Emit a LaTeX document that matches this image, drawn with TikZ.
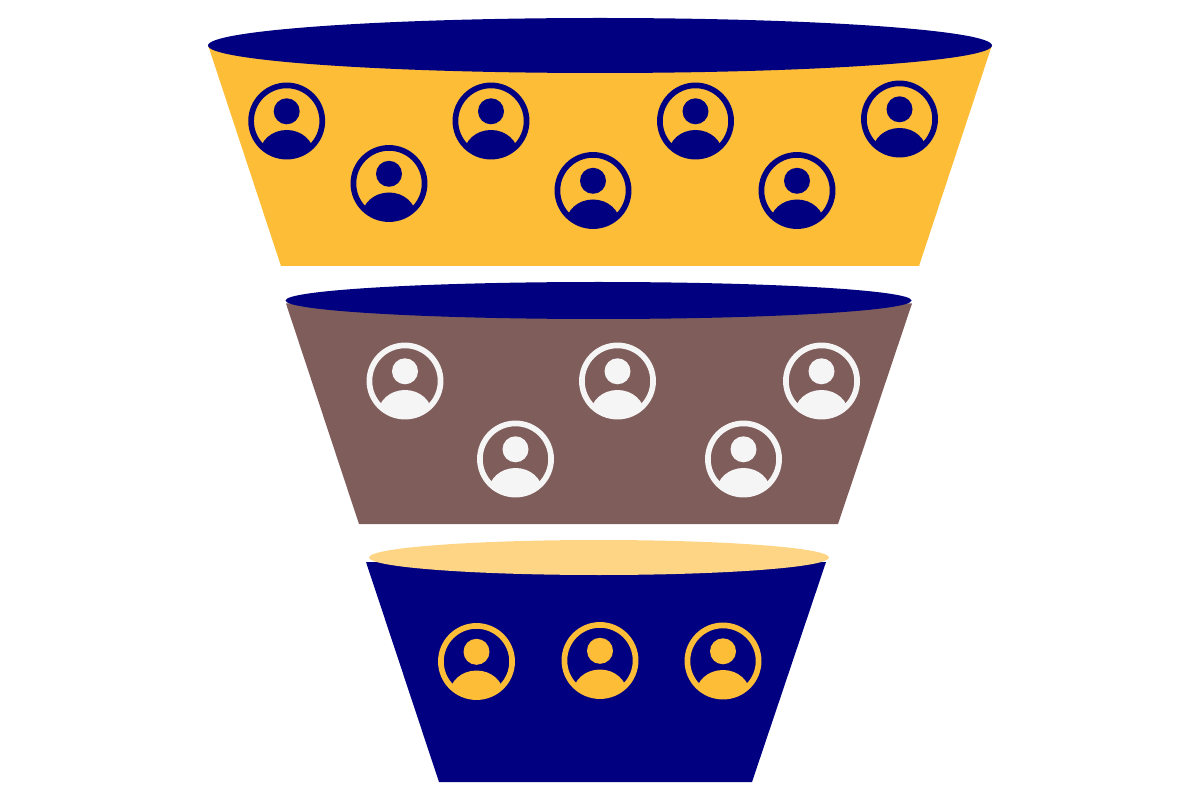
\documentclass[tikz,border=0pt]{standalone}
\usepackage{xcolor}
\definecolor{funnelnavy}{HTML}{000080}
\definecolor{funnelyellow}{HTML}{FDBD37}
\definecolor{funnelbrown}{HTML}{7F5D5B}
\definecolor{funnellight}{HTML}{FDD585}
\definecolor{iconwhite}{HTML}{F5F5F5}
\tikzset{
    usericon/.pic={
        \draw[line width=0.114cm] (0,0) circle (35.6);
        \fill (0,-9.7) circle (13);
        \begin{scope}
            \clip (0,0) circle (36);
            \fill (0,33) ellipse (27 and 24);
        \end{scope}
    }
}
\begin{document}
\begin{tikzpicture}[x=0.02cm, y=-0.02cm]
    \useasboundingbox (0,0) rectangle (1200,800);
    % Top section
    \fill[funnelyellow] (208,45) -- (992,45) -- (919,266) -- (281,266) -- cycle;
    \fill[funnelnavy] (600,45.5) ellipse (392 and 27.5);
    \foreach \x/\y in {286.7/121,389/183.5,491/121,593/190.5,695.5/121,797/190.5,899.5/119} {
        \pic[funnelnavy] at (\x,\y) {usericon};
    }
    % Middle section
    \fill[funnelbrown] (286,303.5) -- (912,303.5) -- (838,524) -- (359,524) -- cycle;
    \fill[funnelnavy] (598.5,300.5) ellipse (313 and 18.5);
    \foreach \x/\y in {405/381,515.5/459,617.5/381,743.5/459,821.5/381} {
        \pic[iconwhite] at (\x,\y) {usericon};
    }
    % Bottom section
    \fill[funnelnavy] (366,562) -- (826,562) -- (752,782) -- (439,782) -- cycle;
    \fill[funnellight] (599,557.5) ellipse (230 and 17.5);
    \foreach \x/\y in {476.5/661.5,600/660.5,723/661} {
        \pic[funnelyellow] at (\x,\y) {usericon};
    }
\end{tikzpicture}
\end{document}
